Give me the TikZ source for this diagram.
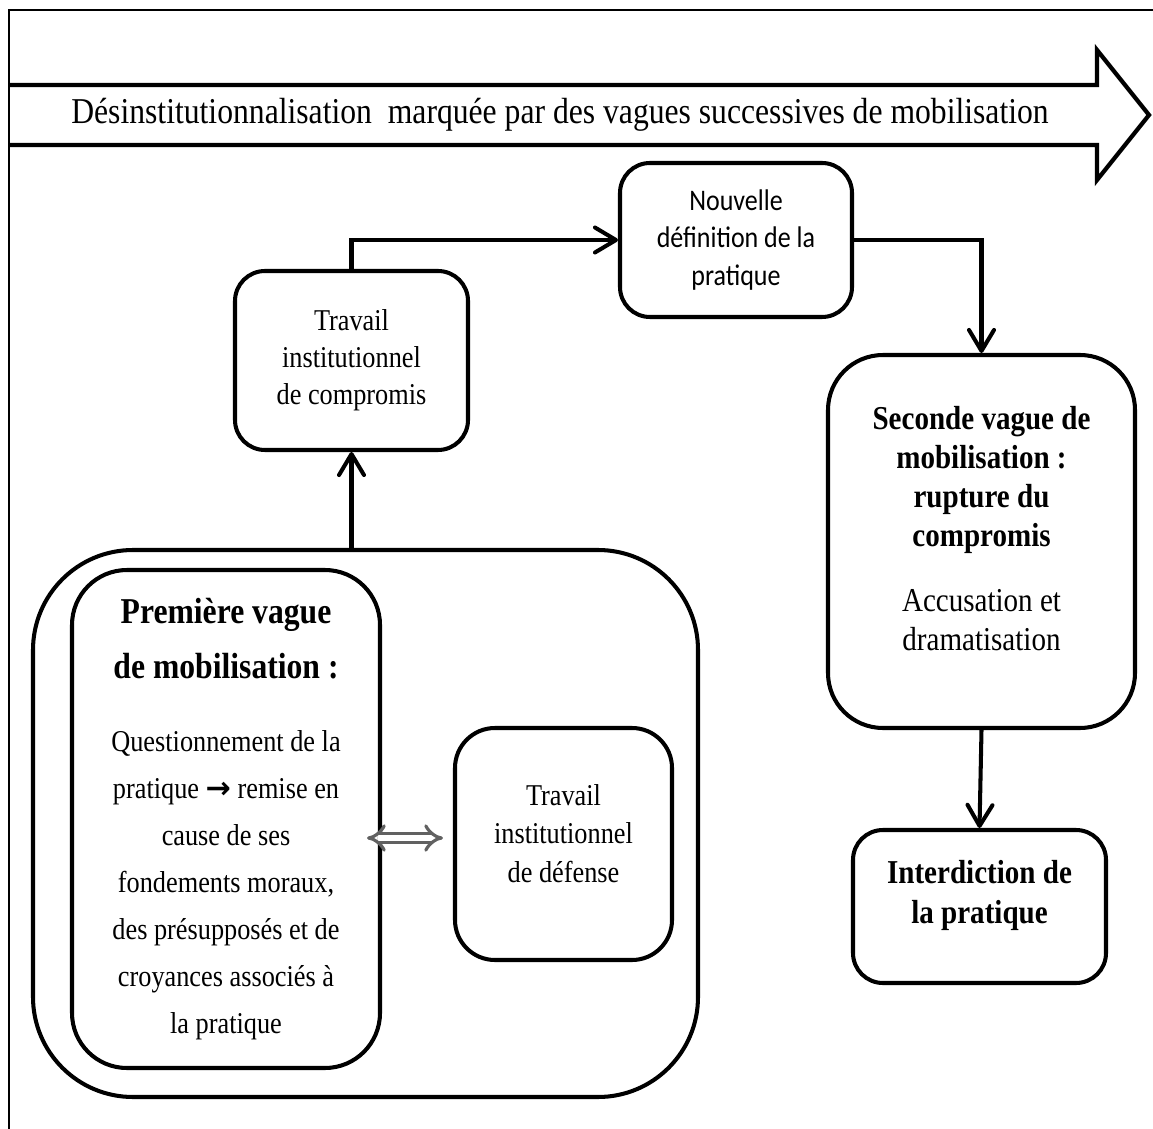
\documentclass[tikz,border=0pt]{standalone}
\usepackage{fontspec}
\setmainfont{Liberation Serif}[FakeStretch=0.87]
\newfontfamily\calib{Carlito}[FakeStretch=0.87]
\newfontfamily\arrowfont{DejaVu Sans}
\usetikzlibrary{arrows.meta,calc}

\begin{document}
\begin{tikzpicture}[
    box/.style={draw, line width=2.3pt, rounded corners=0.6cm, align=center, inner sep=2pt, font=\fontsize{17.2}{21}\selectfont},
    arr/.style={-{Straight Barb[length=0.42cm, width=0.5cm, round]}, line width=2.3pt},
    dbl/.style={{Implies[length=0.2cm, width=0.5cm]}-{Implies[length=0.2cm, width=0.5cm]}, draw=black!62, line width=1.8pt, double=white, double distance=0.12cm}
]
\useasboundingbox (0,0) rectangle (23.06,-22.58);
\draw[line width=0.9pt] (0.18,-22.58) -- (0.18,-0.2) -- (23.06,-0.2);
\draw[line width=2.4pt] (0.18,-1.7) -- (21.94,-1.7) -- (21.94,-1.0) -- (22.98,-2.3) -- (21.94,-3.6) -- (21.94,-2.9) -- (0.18,-2.9);
\node[font=\fontsize{20.7}{24}\selectfont] (title) at (11.2,-2.3) {Désinstitutionnalisation\ \ marquée par des vagues successives de mobilisation};

\node[box, minimum width=4.64cm, minimum height=3.08cm, font=\calib\fontsize{17}{21.6}\selectfont] (nouv) at (14.72,-4.8) {Nouvelle\\définition de la\\pratique};
\node[box, minimum width=4.66cm, minimum height=3.58cm] (comp) at (7.03,-7.21) {Travail\\institutionnel\\de compromis};
\node[box, rounded corners=1.1cm, minimum width=6.14cm, minimum height=7.46cm, font=\fontsize{19}{22.2}\selectfont] (sec) at (19.63,-10.83) {\textbf{Seconde vague de}\\\textbf{mobilisation :}\\\textbf{rupture du}\\\textbf{compromis}\\[14.8pt]Accusation et\\dramatisation\\[-6.8pt]\mbox{}};
\node[box, minimum width=5.06cm, minimum height=3.06cm, font=\bfseries\fontsize{19}{22.8}\selectfont] (inter) at (19.59,-18.13) {Interdiction de\\la pratique\\[-6.3pt]\mbox{}};
\node[box, rounded corners=2cm, minimum width=13.3cm, minimum height=10.94cm] (outer) at (7.31,-16.47) {};
\node[box, rounded corners=1.1cm, minimum width=6.16cm, minimum height=9.96cm, font=\fontsize{17.2}{26.7}\selectfont] (first) at (4.52,-16.38) {{\fontsize{20.7}{24}\selectfont\bfseries Première vague}\\[4.3pt]{\fontsize{20.7}{24}\selectfont\bfseries de mobilisation :}\\[15.3pt]Questionnement de la\\pratique {\arrowfont\bfseries →} remise en\\cause de ses\\fondements moraux,\\des présupposés et de\\croyances associés à\\la pratique};
\node[box, rounded corners=0.8cm, minimum width=4.34cm, minimum height=4.64cm, font=\fontsize{17.2}{22}\selectfont] (def) at (11.27,-16.88) {Travail\\institutionnel\\de défense\\[-10pt]\mbox{}};

\draw[arr] (outer.north -| comp.south) -- (comp.south);
\draw[arr] (comp.north) |- (nouv.west);
\draw[arr] (nouv.east) -| (sec.north);
\draw[arr] (sec.south) -- (inter.north);
\draw[dbl] ($(first.east |- def.west)+(-0.3,0.12)$) -- ($(def.west)+(-0.2,0.12)$);
\end{tikzpicture}
\end{document}
